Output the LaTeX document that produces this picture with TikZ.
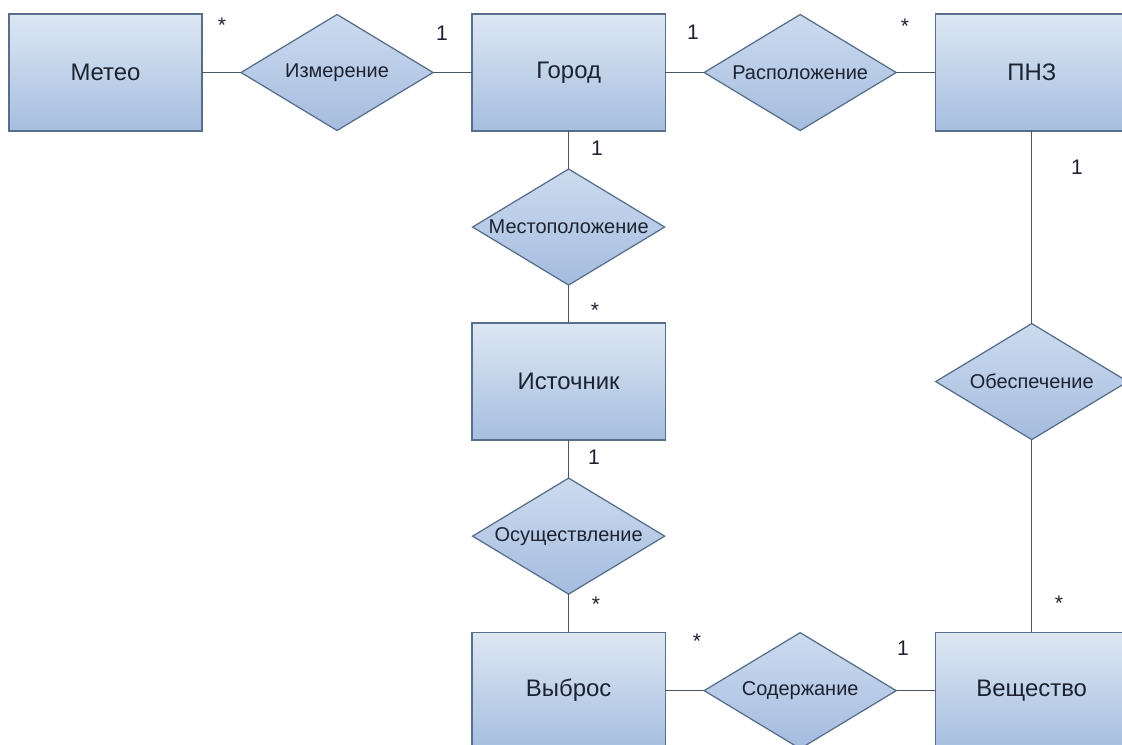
\documentclass[tikz,border=0pt]{standalone}
\usepackage{fontspec}
\setmainfont{Liberation Sans}
\usetikzlibrary{shapes.geometric, positioning}

\definecolor{boxtop}{HTML}{DDE7F3}
\definecolor{boxbot}{HTML}{A6BEE0}
\definecolor{reltop}{HTML}{CCDBEF}
\definecolor{relbot}{HTML}{A5BCDF}
\definecolor{erborder}{HTML}{586F8C}
\definecolor{erline}{HTML}{4B5563}
\definecolor{ertext}{HTML}{1C2230}

\tikzset{
  entity/.style={rectangle, draw=erborder, line width=0.9pt, top color=boxtop, bottom color=boxbot,
    outer sep=0pt, minimum width=4.825cm, minimum height=2.925cm, text=ertext, font=\fontsize{17}{20}\selectfont},
  relation/.style={diamond, draw=erborder, line width=0.9pt, top color=reltop, bottom color=relbot,
    outer sep=0pt, minimum width=4.8cm, minimum height=2.9cm, inner sep=0pt},
  reltext/.style={text=ertext, font=\fontsize{14.2}{17}\selectfont},
  card/.style={text=ertext, inner sep=0pt, font=\fontsize{15}{18}\selectfont},
  conn/.style={draw=erline, line width=0.8pt}
}

\begin{document}
\begin{tikzpicture}[x=0.025cm, y=0.025cm]
  \clip (0,0) rectangle (1122,-744);

  % entities and relations
  \node[entity] (meteo) at (105.5,-72.5) {Метео};
  \node[relation, right=0.975cm of meteo] (izm) {};
  \node[entity, right=0.975cm of izm] (gorod) {Город};
  \node[relation, right=0.975cm of gorod] (rasp) {};
  \node[entity, right=0.975cm of rasp] (pnz) {ПНЗ};
  \node[relation, below=0.95cm of gorod] (mestopol) {};
  \node[entity, below=0.95cm of mestopol] (istoch) {Источник};
  \node[relation, below=0.95cm of istoch] (osush) {};
  \node[entity, below=0.95cm of osush] (vybros) {Выброс};
  \node[relation, right=0.975cm of vybros] (soderzh) {};
  \node[entity, right=0.975cm of soderzh] (veshch) {Вещество};
  \node[relation] (obesp) at (pnz |- istoch) {};

  \node[reltext] (izmt) at (izm) {Измерение};
  \node[reltext] (raspt) at (rasp) {Расположение};
  \node[reltext] (mestopolt) at (mestopol) {Местоположение};
  \node[reltext] (osusht) at (osush) {Осуществление};
  \node[reltext] (soderzht) at (soderzh) {Содержание};
  \node[reltext] (obespt) at (obesp) {Обеспечение};

  % links
  \draw[conn] (meteo) -- (izm);
  \draw[conn] (izm) -- (gorod);
  \draw[conn] (gorod) -- (rasp);
  \draw[conn] (rasp) -- (pnz);
  \draw[conn] (gorod) -- (mestopol);
  \draw[conn] (mestopol) -- (istoch);
  \draw[conn] (istoch) -- (osush);
  \draw[conn] (osush) -- (vybros);
  \draw[conn] (vybros) -- (soderzh);
  \draw[conn] (soderzh) -- (veshch);
  \draw[conn] (pnz) -- (obesp);
  \draw[conn] (obesp) -- (veshch);

  % cardinalities
  \node[card] (c1) at (222,-25) {*};
  \node[card] (c2) at (442,-33) {1};
  \node[card] (c3) at (693,-32) {1};
  \node[card] (c4) at (905,-26) {*};
  \node[card] (c5) at (597,-148) {1};
  \node[card] (c6) at (595,-310) {*};
  \node[card] (c7) at (594,-457) {1};
  \node[card] (c8) at (596,-604) {*};
  \node[card] (c9) at (697,-641) {*};
  \node[card] (c10) at (903,-648) {1};
  \node[card] (c11) at (1077,-167) {1};
  \node[card] (c12) at (1059,-603) {*};
\end{tikzpicture}
\end{document}
